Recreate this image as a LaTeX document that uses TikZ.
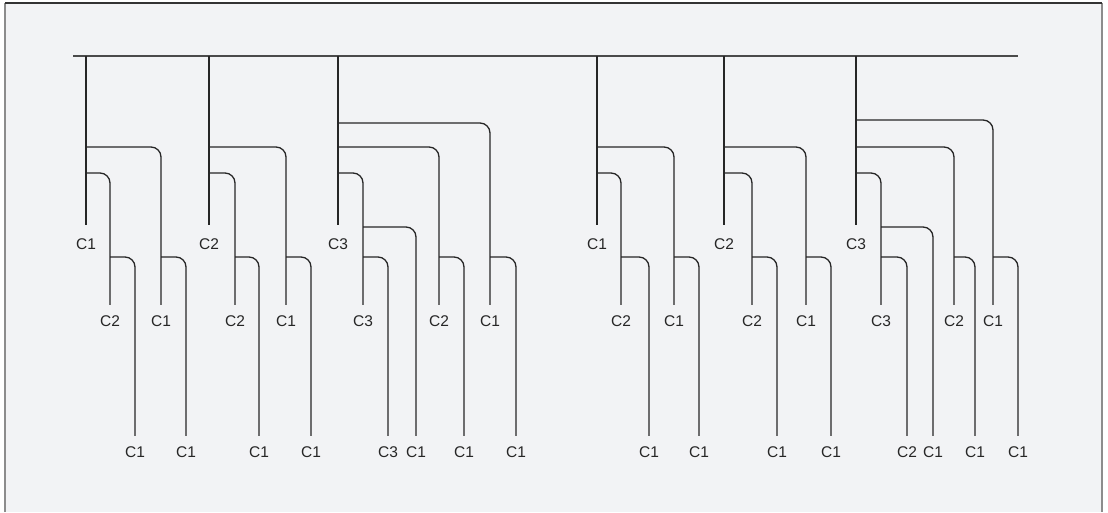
\documentclass[tikz,border=0pt]{standalone}
\usepackage{fontspec}
\setmainfont{Liberation Sans}
\usepackage{tikz}
\usetikzlibrary{positioning}
\definecolor{paper}{HTML}{F2F3F5}
\definecolor{wirecol}{HTML}{262626}
\definecolor{buscol}{HTML}{4A4A4A}
\definecolor{edgecol}{HTML}{8C8C8C}

\begin{document}
\begin{tikzpicture}[x=1pt,y=-1pt,
  wire/.style={draw=wirecol,line width=1.3pt,rounded corners=10pt},
  bus/.style={draw=buscol,line width=1.8pt},
  lbl/.style={text=black!85,font=\fontsize{15.5}{18}\selectfont,inner xsep=0pt,inner ysep=10.5pt},
  lbltop/.style={lbl,inner ysep=13.5pt}]
\useasboundingbox (0,0) rectangle (1108,512);
\fill[white] (0,0) rectangle (1108,512);
\fill[paper] (5,3) rectangle (1102,512);
\draw[edgecol,line width=1.5pt] (5,512) -- (5,3);
\draw[edgecol,line width=1.5pt] (1102,3) -- (1102,512);
\draw[black!80,line width=1.2pt] (5,3) -- (1102,3);

\coordinate (busW) at (73,56);
\coordinate (busE) at (1018,56);
\draw[bus] (busW) -- (busE);

\node[lbltop] (a) at (86,244) {C1};
\node[lbl] (a1) at (110,321) {C2};
\node[lbl] (a2) at (161,321) {C1};
\node[lbl] (a11) at (135,452) {C1};
\node[lbl] (a21) at (186,452) {C1};
\draw[wire] (a.north |- busW) -- (a.north);
\draw[wire] (a.north |- 0,147) -| (a2.north);
\draw[wire] (a.north |- 0,173) -| (a1.north);
\draw[wire] (a1.north |- 0,257) -| (a11.north);
\draw[wire] (a2.north |- 0,257) -| (a21.north);

\node[lbltop] (b) at (209,244) {C2};
\node[lbl] (b1) at (235,321) {C2};
\node[lbl] (b2) at (286,321) {C1};
\node[lbl] (b11) at (259,452) {C1};
\node[lbl] (b21) at (311,452) {C1};
\draw[wire] (b.north |- busW) -- (b.north);
\draw[wire] (b.north |- 0,147) -| (b2.north);
\draw[wire] (b.north |- 0,173) -| (b1.north);
\draw[wire] (b1.north |- 0,257) -| (b11.north);
\draw[wire] (b2.north |- 0,257) -| (b21.north);

\node[lbltop] (c) at (338,244) {C3};
\node[lbl] (c1) at (363,321) {C3};
\node[lbl] (c2) at (439,321) {C2};
\node[lbl] (c3) at (490,321) {C1};
\node[lbl] (c11) at (388,452) {C3};
\node[lbl] (c12) at (416,452) {C1};
\node[lbl] (c21) at (464,452) {C1};
\node[lbl] (c31) at (516,452) {C1};
\draw[wire] (c.north |- busW) -- (c.north);
\draw[wire] (c.north |- 0,123) -| (c3.north);
\draw[wire] (c.north |- 0,147) -| (c2.north);
\draw[wire] (c.north |- 0,173) -| (c1.north);
\draw[wire] (c1.north |- 0,227) -| (c12.north);
\draw[wire] (c1.north |- 0,257) -| (c11.north);
\draw[wire] (c2.north |- 0,257) -| (c21.north);
\draw[wire] (c3.north |- 0,257) -| (c31.north);

\node[lbltop] (d) at (597,244) {C1};
\node[lbl] (d1) at (621,321) {C2};
\node[lbl] (d2) at (674,321) {C1};
\node[lbl] (d11) at (649,452) {C1};
\node[lbl] (d21) at (699,452) {C1};
\draw[wire] (d.north |- busW) -- (d.north);
\draw[wire] (d.north |- 0,147) -| (d2.north);
\draw[wire] (d.north |- 0,173) -| (d1.north);
\draw[wire] (d1.north |- 0,257) -| (d11.north);
\draw[wire] (d2.north |- 0,257) -| (d21.north);

\node[lbltop] (e) at (724,244) {C2};
\node[lbl] (e1) at (752,321) {C2};
\node[lbl] (e2) at (806,321) {C1};
\node[lbl] (e11) at (777,452) {C1};
\node[lbl] (e21) at (831,452) {C1};
\draw[wire] (e.north |- busW) -- (e.north);
\draw[wire] (e.north |- 0,147) -| (e2.north);
\draw[wire] (e.north |- 0,173) -| (e1.north);
\draw[wire] (e1.north |- 0,257) -| (e11.north);
\draw[wire] (e2.north |- 0,257) -| (e21.north);

\node[lbltop] (f) at (856,244) {C3};
\node[lbl] (f1) at (881,321) {C3};
\node[lbl] (f2) at (954,321) {C2};
\node[lbl] (f3) at (993,321) {C1};
\node[lbl] (f11) at (907,452) {C2};
\node[lbl] (f12) at (933,452) {C1};
\node[lbl] (f21) at (975,452) {C1};
\node[lbl] (f31) at (1018,452) {C1};
\draw[wire] (f.north |- busW) -- (f.north);
\draw[wire] (f.north |- 0,120) -| (f3.north);
\draw[wire] (f.north |- 0,147) -| (f2.north);
\draw[wire] (f.north |- 0,173) -| (f1.north);
\draw[wire] (f1.north |- 0,227) -| (f12.north);
\draw[wire] (f1.north |- 0,257) -| (f11.north);
\draw[wire] (f2.north |- 0,257) -| (f21.north);
\draw[wire] (f3.north |- 0,257) -| (f31.north);
\end{tikzpicture}
\end{document}
